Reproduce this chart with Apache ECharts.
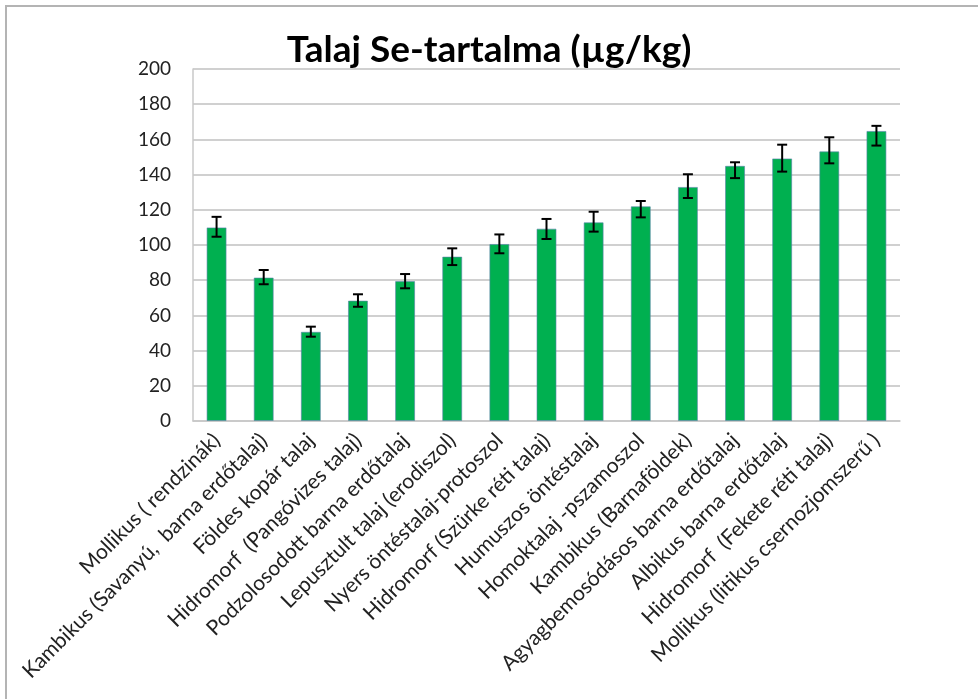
<!DOCTYPE html>
<html>
<head>
<meta charset="utf-8">
<script src="https://cdn.jsdelivr.net/npm/echarts@6/dist/echarts.min.js"></script>
<style>
html,body{margin:0;padding:0;background:#fff;}
#chart{width:978px;height:699px;}
</style>
</head>
<body>
<div id="chart"></div>
<script>
const categories = [
  "Mollikus ( rendzinák)",
  "Kambikus (Savanyú,  barna erdőtalaj)",
  "Földes kopár talaj",
  "Hidromorf  (Pangóvizes talaj)",
  "Podzolosodott barna erdőtalaj",
  "Lepusztult talaj (erodiszol)",
  "Nyers öntéstalaj-protoszol",
  "Hidromorf (Szürke réti talaj)",
  "Humuszos öntéstalaj",
  "Homoktalaj -pszamoszol",
  "Kambikus (Barnaföldek)",
  "Agyagbemosódásos barna erdőtalaj",
  "Albikus barna erdőtalaj",
  "Hidromorf  (Fekete réti talaj)",
  "Mollikus (litikus csernozjomszerű )"
];
const values     = [110, 81.5, 50.7, 68.4, 79.5, 93.4, 100.6, 109.3, 112.9, 122, 133, 145, 149.2, 153.2, 164.8];
const errorUpper = [116, 85.8, 53.6, 72, 83.5, 98.1, 106, 114.8, 118.9, 125, 140.2, 147, 157, 161.2, 167.7];
const errorLower = [104.7, 77.7, 47.9, 64.9, 75.4, 88.6, 95.3, 103.4, 107.6, 115.7, 126.7, 138, 141.7, 146.4, 156.5];
const yTicks = { min: 0, max: 200, interval: 20 };

const chart = echarts.init(document.getElementById('chart'));
const errData = categories.map((c, i) => [i, errorLower[i], errorUpper[i]]);

chart.setOption({
  animation: false,
  backgroundColor: '#fff',
  graphic: [{
    type: 'rect',
    shape: { x: 6, y: 6, width: 1000, height: 720 },
    style: { fill: 'none', stroke: '#b4b4b4', lineWidth: 2 },
    z: -1
  }],
  title: {
    text: 'Talaj Se-tartalma (µg/kg)',
    left: 'center',
    top: 27,
    textStyle: { fontFamily: 'Lato', fontWeight: 'bold', fontSize: 37, color: '#000' }
  },
  grid: { left: 193, right: 78, top: 69, bottom: 278 },
  xAxis: {
    type: 'category',
    data: categories,
    axisLine: { lineStyle: { color: '#c8c8c8', width: 1.5 } },
    axisTick: { show: false },
    axisLabel: {
      rotate: 45, interval: 0, margin: 16,
      fontFamily: 'Lato', fontSize: 21, color: '#222'
    }
  },
  yAxis: {
    type: 'value',
    min: yTicks.min, max: yTicks.max, interval: yTicks.interval,
    axisLine: { show: true, lineStyle: { color: '#c8c8c8', width: 1.5 } },
    axisTick: { show: false },
    splitLine: { lineStyle: { color: '#d0d0d0', width: 2 } },
    axisLabel: { fontFamily: 'Lato', fontSize: 19, color: '#222', margin: 22 }
  },
  series: [
    {
      type: 'bar',
      data: values,
      barWidth: 20,
      itemStyle: { color: '#00b050', borderColor: 'rgba(90,130,170,0.6)', borderWidth: 1 }
    },
    {
      type: 'custom',
      data: errData,
      z: 10,
      renderItem: function (params, api) {
        const x = api.value(0);
        const lo = api.coord([x, api.value(1)]);
        const hi = api.coord([x, api.value(2)]);
        const cw = 5;
        const style = { stroke: '#000', lineWidth: 2 };
        return {
          type: 'group',
          children: [
            { type: 'line', shape: { x1: lo[0], y1: lo[1], x2: hi[0], y2: hi[1] }, style: style },
            { type: 'line', shape: { x1: lo[0] - cw, y1: lo[1], x2: lo[0] + cw, y2: lo[1] }, style: style },
            { type: 'line', shape: { x1: hi[0] - cw, y1: hi[1], x2: hi[0] + cw, y2: hi[1] }, style: style }
          ]
        };
      }
    }
  ]
});
</script>
</body>
</html>
